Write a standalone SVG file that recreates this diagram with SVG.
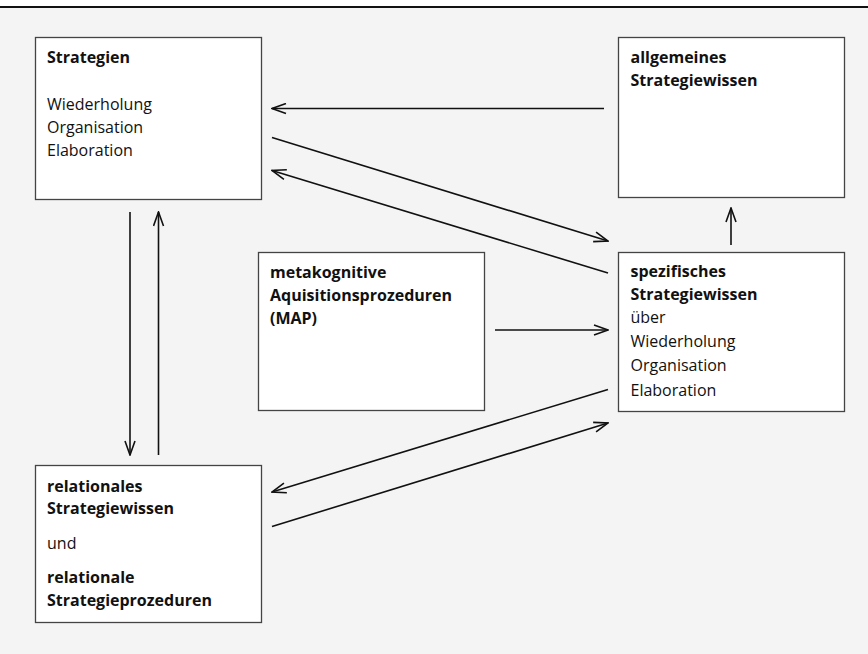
<svg xmlns="http://www.w3.org/2000/svg" width="868" height="654" viewBox="0 0 868 654">
<defs>
<marker id="ah" viewBox="0 0 16 12" refX="15" refY="6" markerWidth="16" markerHeight="12" markerUnits="userSpaceOnUse" orient="auto">
<path d="M1,1 L15,6 L1,11" fill="none" stroke="#111" stroke-width="1.6"/>
</marker>
<style>
.box{fill:#fff;stroke:#444;stroke-width:1.3}
.t{font-family:"Open Sans","Noto Sans","Liberation Sans",sans-serif;font-size:16px;fill:#111}
.b{font-weight:bold}
.c{stroke:#111;stroke-width:1.6;fill:none;marker-end:url(#ah)}
</style>
</defs>
<rect x="0" y="0" width="868" height="654" fill="#fff"/>
<rect x="0" y="7" width="868" height="647" fill="#f4f4f4"/>
<line x1="0" y1="7" x2="868" y2="7" stroke="#111" stroke-width="2"/>

<g id="strategien">
<rect class="box" x="35.5" y="37.5" width="226" height="162"/>
<text class="t b" x="47" y="63">Strategien</text>
<text class="t" x="47" y="110">Wiederholung</text>
<text class="t" x="47" y="133">Organisation</text>
<text class="t" x="47" y="156">Elaboration</text>
</g>

<g id="allgemeines">
<rect class="box" x="618.5" y="37.5" width="226" height="160"/>
<text class="t b" x="630.5" y="63">allgemeines</text>
<text class="t b" x="630.5" y="86">Strategiewissen</text>
</g>

<g id="map">
<rect class="box" x="258.5" y="252.5" width="226" height="158"/>
<text class="t b" x="270" y="278">metakognitive</text>
<text class="t b" x="270" y="301">Aquisitionsprozeduren</text>
<text class="t b" x="270" y="324">(MAP)</text>
</g>

<g id="spezifisches">
<rect class="box" x="618.5" y="252.5" width="226" height="159"/>
<text class="t b" x="630.5" y="277">spezifisches</text>
<text class="t b" x="630.5" y="300">Strategiewissen</text>
<text class="t" x="630.5" y="323">über</text>
<text class="t" x="630.5" y="347">Wiederholung</text>
<text class="t" x="630.5" y="371">Organisation</text>
<text class="t" x="630.5" y="396">Elaboration</text>
</g>

<g id="relational">
<rect class="box" x="35.5" y="465.5" width="226" height="157"/>
<text class="t b" x="47" y="492">relationales</text>
<text class="t b" x="47" y="514">Strategiewissen</text>
<text class="t" x="47" y="549">und</text>
<text class="t b" x="47" y="583">relationale</text>
<text class="t b" x="47" y="606">Strategieprozeduren</text>
</g>

<g id="connectors">
<line class="c" x1="604" y1="108.5" x2="272" y2="108.5"/>
<line class="c" x1="272" y1="137.5" x2="608" y2="241"/>
<line class="c" x1="608" y1="273" x2="272" y2="170.5"/>
<line class="c" x1="495" y1="330" x2="608" y2="330"/>
<line class="c" x1="731" y1="245" x2="731" y2="208"/>
<line class="c" x1="130" y1="212" x2="130" y2="455"/>
<line class="c" x1="158.5" y1="455" x2="158.5" y2="212"/>
<line class="c" x1="608" y1="389.5" x2="272" y2="492"/>
<line class="c" x1="272" y1="526.5" x2="608" y2="423"/>
</g>
</svg>
